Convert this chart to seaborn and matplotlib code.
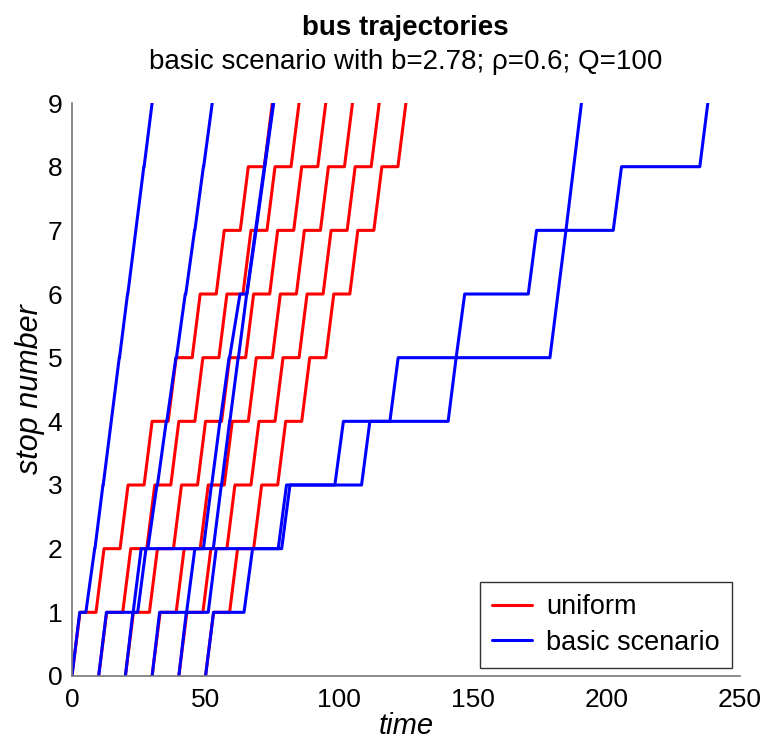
import numpy as np
import pandas as pd
import matplotlib
matplotlib.use("Agg")
import matplotlib.pyplot as plt
import seaborn as sns
from matplotlib.lines import Line2D

# ---- data: arrival / departure times at stops 0..9 for each bus ----
stops = [0, 1, 2, 3, 4, 5, 6, 7, 8, 9]

uniform_arr = [
    [0, 3, 12, 21, 30, 39, 48, 57, 66, 75],
    [10, 13, 22, 31, 40, 49, 58, 67, 76, 85],
    [20, 23, 32, 41, 50, 59, 68, 77, 86, 95],
    [30, 33, 42, 51, 60, 69, 78, 87, 96, 105],
    [40, 43, 52, 61, 70, 79, 88, 97, 106, 115],
    [50, 53, 62, 71, 80, 89, 98, 107, 116, 125],
]
uniform_dep = [
    [0, 9, 18, 27, 36, 45, 54, 63, 72, 75],
    [10, 19, 28, 37, 46, 55, 64, 73, 82, 85],
    [20, 29, 38, 47, 56, 65, 74, 83, 92, 95],
    [30, 39, 48, 57, 66, 75, 84, 93, 102, 105],
    [40, 49, 58, 67, 76, 85, 94, 103, 112, 115],
    [50, 59, 68, 77, 86, 95, 104, 113, 122, 125],
]

basic_arr = [
    [0, 2.9, 8.5, 11.6, 14.7, 17.7, 20.8, 23.9, 26.9, 30.0],
    [10, 12.9, 27.7, 31.8, 35.3, 38.9, 42.4, 45.9, 49.2, 52.5],
    [20, 22.8, 25.9, 52.2, 55.4, 58.8, 62.9, 68.7, 72.0, 75.3],
    [30, 32.8, 46.0, 55.9, 59.0, 62.2, 65.4, 68.9, 72.2, 75.5],
    [40, 42.8, 54.0, 80.3, 101.6, 122.1, 181.9, 184.9, 187.8, 190.7],
    [50, 53.0, 67.6, 81.6, 111.5, 143.8, 147.0, 173.9, 205.7, 238.0],
]
basic_dep = [
    [0, 5.2, 8.6, 11.7, 14.7, 17.8, 20.9, 23.9, 27.0, 30.0],
    [10, 24.6, 28.4, 32.0, 35.5, 39.1, 42.6, 46.0, 49.3, 52.5],
    [20, 22.9, 49.2, 52.3, 55.5, 59.0, 65.4, 68.7, 72.0, 75.3],
    [30, 42.9, 52.9, 56.0, 59.1, 62.3, 65.5, 68.9, 72.2, 75.5],
    [40, 51.0, 77.2, 98.4, 119.0, 178.9, 181.9, 184.9, 187.8, 190.7],
    [50, 64.4, 78.5, 108.4, 140.8, 143.8, 170.8, 202.6, 235.0, 238.0],
]

scenarios = ["uniform", "basic scenario"]
colors = {"uniform": "#ff0000", "basic scenario": "#0000ff"}

rows = []
for scen, arrs, deps in [("uniform", uniform_arr, uniform_dep),
                         ("basic scenario", basic_arr, basic_dep)]:
    for b, (a, d) in enumerate(zip(arrs, deps)):
        order = 0
        for s, ta, td in zip(stops, a, d):
            rows.append(dict(scenario=scen, bus=f"{scen}-{b}", order=order, time=ta, stop=s))
            order += 1
            rows.append(dict(scenario=scen, bus=f"{scen}-{b}", order=order, time=td, stop=s))
            order += 1
df = pd.DataFrame(rows)

sns.set_theme(style="white")
plt.rcParams["font.family"] = ["Liberation Sans", "DejaVu Sans"]
plt.rcParams["text.color"] = "black"
plt.rcParams["axes.labelcolor"] = "black"

fig = plt.figure(figsize=(7.78, 7.51), dpi=100)
ax = fig.add_axes([0.0925, 0.0999, 0.8585, 0.7629])

sns.lineplot(data=df, x="time", y="stop", hue="scenario", units="bus",
             estimator=None, sort=False, palette=colors, hue_order=scenarios,
             linewidth=2.2, ax=ax, legend=False)

ax.set_xlim(0, 250)
ax.set_ylim(0, 9)
ax.set_xticks([0, 50, 100, 150, 200, 250])
ax.set_yticks(stops)
ax.tick_params(direction="in", length=5, width=1, colors="#555555",
               labelcolor="black", labelsize=19)
ax.tick_params(axis="x", pad=9)
ax.tick_params(axis="y", pad=7)
for side in ["top", "right"]:
    ax.spines[side].set_visible(False)
for side in ["left", "bottom"]:
    ax.spines[side].set_color("#777777")
    ax.spines[side].set_linewidth(1.2)

ax.set_xlabel("time", fontsize=21, fontstyle="italic", labelpad=0)
ax.set_ylabel("stop number", fontsize=22, fontstyle="italic", labelpad=2)

fig.text(0.521, 0.963, "bus trajectories", ha="center", va="center",
         fontsize=20, fontweight="bold")
fig.text(0.521, 0.918, "basic scenario with b=2.78; \u03c1=0.6; Q=100",
         ha="center", va="center", fontsize=20)

handles = [Line2D([0], [0], color=colors[s], lw=2.2) for s in scenarios]
leg = ax.legend(handles, scenarios, loc="lower right", fontsize=19.5,
                frameon=True, fancybox=False, edgecolor="black",
                borderaxespad=0.3, handlelength=1.5, handletextpad=0.5,
                labelspacing=0.35, borderpad=0.45)
leg.get_frame().set_linewidth(1.0)

fig.savefig("out.png", dpi=100)
